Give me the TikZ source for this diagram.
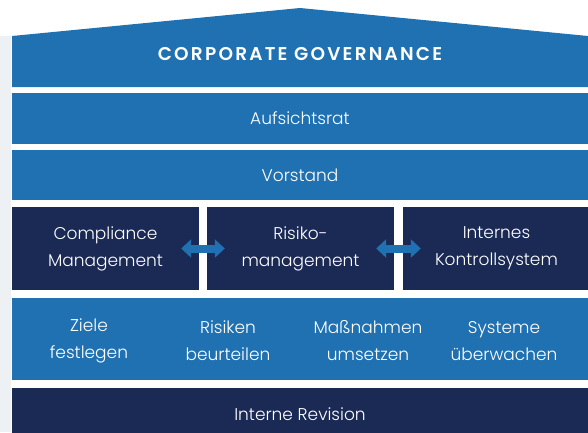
\documentclass[tikz,border=0pt]{standalone}
\usepackage{fontspec}
\IfFontExistsTF{Poppins Light}{\setmainfont{Poppins Light}[BoldFont=Poppins SemiBold]}{\setmainfont{Poppins}}
\IfFontExistsTF{Poppins SemiBold}{\newfontfamily\titlefont{Poppins SemiBold}[LetterSpace=12]}{\newfontfamily\titlefont{Poppins}[LetterSpace=12]}
\usetikzlibrary{arrows.meta}
\definecolor{cgblue}{RGB}{31,113,178}
\definecolor{cgnavy}{RGB}{27,42,85}
\definecolor{cggray}{RGB}{238,241,244}
\tikzset{
  band/.style={fill=cgblue,text=white,minimum width=576pt,inner sep=0pt,align=center},
  pillar/.style={fill=cgnavy,text=white,minimum height=83pt,inner sep=0pt,align=center},
  step label/.style={text=white,align=center},
  link/.style={cgblue,line width=8pt,{Triangle[width=18pt,length=10pt]}-{Triangle[width=18pt,length=10pt]}}
}
\begin{document}
\begin{tikzpicture}[x=1pt,y=-1pt,font=\fontsize{17}{27}\selectfont]
  \useasboundingbox (0,0) rectangle (588,432);
  \clip (0,0) rectangle (588,432);
  % side strip and roof
  \fill[cggray] (0,36) rectangle (11,432);
  \fill[cgblue] (12,36) -- (300,8) -- (588,36) -- (588,87) -- (12,87) -- cycle;
  \node (cg) [text=white,font=\fontsize{18.5}{20}\titlefont] at (300,54) {CORPORATE GOVERNANCE};
  % bands
  \node (board) [band,minimum height=51pt] at (300,118.5) {Aufsichtsrat};
  \node (exec) [band,minimum height=50pt] at (300,175) {Vorstand};
  \node (comp) [pillar,minimum width=187pt] at (105.5,248.5) {Compliance\\Management};
  \node (risk) [pillar,minimum width=187pt] at (300.5,248.5) {Risiko-\\management};
  \node (ics) [pillar,minimum width=187pt] at (496.5,248.5) {Internes\\Kontrollsystem};
  \draw[link] ([xshift=-18pt]comp.east) -- ([xshift=18pt]risk.west);
  \draw[link] ([xshift=-18pt]risk.east) -- ([xshift=18pt]ics.west);
  \node (steps) [band,minimum height=82pt] at (300,339) {};
  \node (s1) [step label] at (89,341) {Ziele\\festlegen};
  \node (s2) [step label] at (228,341) {Risiken\\beurteilen};
  \node (s3) [step label] at (368,341) {Maßnahmen\\umsetzen};
  \node (s4) [step label] at (504,341) {Systeme\\überwachen};
  \node (audit) [band,fill=cgnavy,minimum height=52pt] at (300,414) {Interne Revision};
\end{tikzpicture}
\end{document}
